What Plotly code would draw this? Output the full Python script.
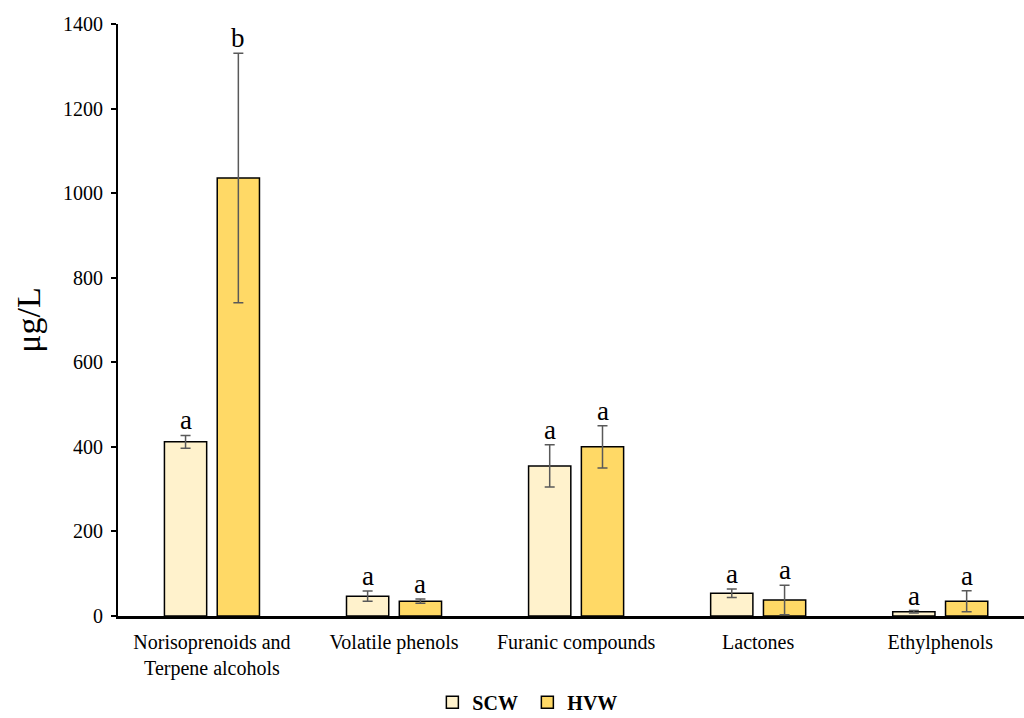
import plotly.graph_objects as go

categories = ["Norisoprenoids and<br>Terpene alcohols", "Volatile phenols",
              "Furanic compounds", "Lactones", "Ethylphenols"]
scw_values = [412, 47, 355, 54, 10]
scw_errors = [15, 12, 50, 10, 3]
hvw_values = [1036, 35, 400, 38, 35]
hvw_errors = [295, 5, 50, 35, 25]
scw_letters = ["a", "a", "a", "a", "a"]
hvw_letters = ["b", "a", "a", "a", "a"]

serif = "Liberation Serif"
fig = go.Figure()

series = [
    ("SCW", scw_values, scw_errors, "#FFF2CC"),
    ("HVW", hvw_values, hvw_errors, "#FFD966"),
]
for name, vals, errs, color in series:
    fig.add_trace(go.Bar(
        name=name, x=list(range(len(categories))), y=vals,
        marker=dict(color=color, line=dict(color="black", width=1.5)),
        error_y=dict(type="data", array=errs, color="#595959", thickness=1.5, width=5),
    ))

# significance letters above each error bar
offsets = [-0.145, 0.145]
for off, vals, errs, letters in [(offsets[0], scw_values, scw_errors, scw_letters),
                                 (offsets[1], hvw_values, hvw_errors, hvw_letters)]:
    for i, (v, e, l) in enumerate(zip(vals, errs, letters)):
        fig.add_annotation(x=i + off, y=v + e, text=l, showarrow=False,
                           yanchor="bottom", yshift=-2,
                           font=dict(family=serif, size=27, color="black"))

fig.update_layout(
    width=1024, height=718,
    margin=dict(l=118, r=0, t=24, b=102, autoexpand=False),
    plot_bgcolor="white", paper_bgcolor="white",
    barmode="group", bargap=0.42, bargroupgap=0.2,
    font=dict(family=serif, size=20, color="black"),
    legend=dict(orientation="h", xref="container", x=0.515, xanchor="center",
                yref="container", y=0.022, yanchor="middle",
                font=dict(family=serif, size=20, color="black", weight="bold"),
                itemwidth=30, entrywidth=50, traceorder="normal"),
    showlegend=True,
)
fig.update_xaxes(
    tickvals=list(range(len(categories))), ticktext=categories,
    range=[-0.516, 4.46], showline=True, linecolor="black", linewidth=2.5,
    ticks="", showgrid=False, zeroline=False, automargin=False,
    ticklabelstandoff=6,
    tickfont=dict(family=serif, size=20, color="black"),
)
fig.update_yaxes(
    range=[0, 1400], dtick=200, showline=True, linecolor="black", linewidth=2,
    ticks="outside", ticklen=5, tickwidth=2, tickcolor="black",
    showgrid=False, zeroline=False, automargin=False,
    ticklabelstandoff=4,
    tickfont=dict(family=serif, size=20, color="black"),
    title=dict(text="μg/L", font=dict(family=serif, size=34, color="black"), standoff=12),
)

fig.write_html("out.html")
